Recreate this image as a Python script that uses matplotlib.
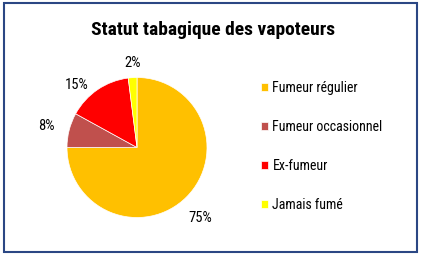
import numpy as np
import matplotlib.pyplot as plt
from matplotlib.patches import Rectangle

labels = ["Fumeur régulier", "Fumeur occasionnel", "Ex-fumeur", "Jamais fumé"]
sizes = [75, 8, 15, 2]
colors = ["#FFC000", "#C0504D", "#FF0000", "#FFFF00"]

# where each percentage sits: radius factor and angle nudge (deg) from the wedge middle
label_dist = [1.36, 1.33, 1.24, 1.21]
label_turn = [-3, 1.0, 10, -0.5]

plt.rcParams['font.family'] = ['Roboto Condensed', 'DejaVu Sans']

fig = plt.figure(figsize=(4.22, 2.57), dpi=100)

# dark blue frame around the whole chart
fig.patches.append(Rectangle((3.5 / 422, 5 / 257), 413 / 422, 249.5 / 257, transform=fig.transFigure,
                             fill=False, edgecolor="#2B4784", linewidth=1.5))

fig.text(213 / 422, 1 - 30 / 257, "Statut tabagique des vapoteurs", ha="center", va="center",
         fontsize=14, fontweight="bold", color="#000000")

ax = fig.add_axes([67 / 422, 39.5 / 257, 140 / 422, 140 / 257])
wedges, texts = ax.pie(sizes, colors=colors, startangle=90, counterclock=False,
                       labels=[f"{s}%" for s in sizes],
                       wedgeprops=dict(edgecolor="white", linewidth=0.5),
                       textprops=dict(fontsize=10.5, color="#000000"))
for w, t, d, turn in zip(wedges, texts, label_dist, label_turn):
    ang = np.deg2rad((w.theta1 + w.theta2) / 2 + turn)
    t.set_position((d * np.cos(ang), d * np.sin(ang)))
    t.set_ha("center")
    t.set_va("center")
ax.set_xlim(-1, 1)
ax.set_ylim(-1, 1)
ax.set_aspect("equal")

leg = fig.legend(wedges, labels, loc="upper left", bbox_to_anchor=(261 / 422, 1 - 81 / 257),
                 frameon=False, fontsize=10, handlelength=0.52, handleheight=0.52,
                 handletextpad=0.3, labelspacing=1.8, borderpad=0, borderaxespad=0)

fig.savefig("out.png", dpi=100)
